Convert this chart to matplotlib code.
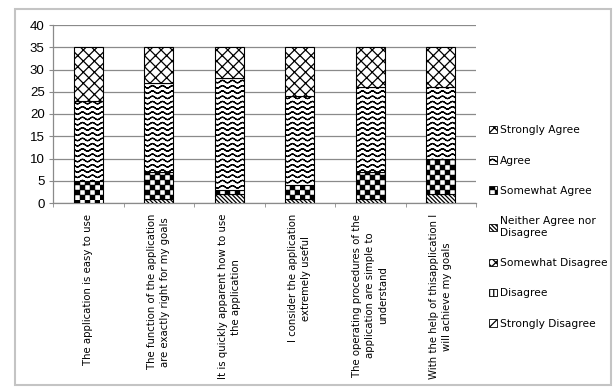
import warnings
import numpy as np
import matplotlib
matplotlib.use('Agg')
import matplotlib.pyplot as plt
import matplotlib.hatch as mhatch
from matplotlib.path import Path
from matplotlib.patches import Patch, Rectangle

warnings.filterwarnings('ignore')

questions = [
    'The application is easy to use',
    'The function of the application\nare exactly right for my goals',
    'It is quickly apparent how to use\nthe application',
    'I consider the application\nextremely useful',
    'The operating procedures of the\napplication are simple to\nunderstand',
    'With the help of thisapplication I\nwill achieve my goals',
]

# stacked bottom -> top
answers = ['Strongly Disagree', 'Disagree', 'Somewhat Disagree',
           'Neither Agree nor\nDisagree', 'Somewhat Agree', 'Agree',
           'Strongly Agree']
strongly_disagree = [0, 0, 0, 0, 0, 0]
disagree = [0, 0, 0, 0, 0, 0]
somewhat_disagree = [0, 0, 0, 0, 0, 0]
neither = [0, 1, 2, 1, 1, 2]
somewhat_agree = [5, 6, 1, 3, 6, 8]
agree = [18, 20, 25, 20, 19, 16]
strongly_agree = [12, 8, 7, 11, 9, 9]
counts = [strongly_disagree, disagree, somewhat_disagree, neither,
          somewhat_agree, agree, strongly_agree]


# extra hatch patterns: '~' wavy lines, '#' checkerboard
class WavyHatch(mhatch.HatchPatternBase):
    pts = 121

    def __init__(self, hatch, density):
        self.num_lines = hatch.count('~') * 19
        self.num_vertices = self.num_lines * self.pts * 2

    def set_vertices_and_codes(self, vertices, codes):
        x = np.linspace(0.0, 1.0, self.pts)
        wave = 0.012 * np.sin(2 * np.pi * 10 * x)
        n = self.pts
        for i in range(self.num_lines):
            y = (i + 0.5) / self.num_lines + wave
            s = i * 2 * n
            # go out and back so the filled area stays empty
            vertices[s:s + n, 0] = x
            vertices[s:s + n, 1] = y
            vertices[s + n:s + 2 * n, 0] = x[::-1]
            vertices[s + n:s + 2 * n, 1] = y[::-1]
            codes[s:s + 2 * n] = Path.LINETO
            codes[s] = Path.MOVETO


class CheckerHatch(mhatch.HatchPatternBase):
    def __init__(self, hatch, density):
        self.n = hatch.count('#') * 20
        self.num_vertices = (self.n * self.n // 2) * 5

    def set_vertices_and_codes(self, vertices, codes):
        step = 1.0 / self.n
        m = 0.004
        k = 0
        for i in range(self.n):
            for j in range(self.n):
                if (i + j) % 2:
                    continue
                x0, y0 = i * step + m, j * step + m
                x1, y1 = (i + 1) * step - m, (j + 1) * step - m
                vertices[k:k + 5] = [[x0, y0], [x1, y0], [x1, y1], [x0, y1], [x0, y0]]
                codes[k:k + 5] = [Path.MOVETO, Path.LINETO, Path.LINETO,
                                  Path.LINETO, Path.CLOSEPOLY]
                k += 5


mhatch._hatch_types.extend([WavyHatch, CheckerHatch])

hatches = ['////', '||||', 'xxxx', '\\' * 8, '#', '~', 'xxx']

plt.rcParams['hatch.linewidth'] = 0.9

fig = plt.figure(figsize=(6.13, 3.87), dpi=100)
ax = fig.add_axes([53 / 613, 1 - 203 / 387, (476 - 53) / 613, (203 - 25) / 387])

x = np.arange(len(questions))
bottom = np.zeros(len(questions))
for vals, h in zip(counts, hatches):
    ax.bar(x, vals, 0.41, bottom=bottom, color='white', edgecolor='black',
           linewidth=0.8, hatch=h, zorder=3)
    bottom += np.array(vals)

ax.set_xlim(-0.5, len(questions) - 0.5)
ax.set_ylim(0, 40)
ax.set_yticks(range(0, 41, 5))
ax.yaxis.grid(True, color='#8a8a8a', linewidth=0.9, zorder=0)
ax.set_axisbelow(True)

for s in ['top', 'right']:
    ax.spines[s].set_visible(False)
for s in ['left', 'bottom']:
    ax.spines[s].set_color('#8a8a8a')
    ax.spines[s].set_linewidth(0.9)

ax.tick_params(axis='y', length=3, color='#8a8a8a', labelsize=9.5, pad=3)
for t in ax.get_yticklabels():
    t.set_fontfamily('Liberation Sans')

ax.set_xticks(x)
ax.set_xticklabels(questions, rotation=90, multialignment='center',
                   linespacing=1.4, fontsize=7.3)
ax.tick_params(axis='x', which='major', length=0, pad=8)
ax.set_xticks(np.arange(-0.5, len(questions)), minor=True)
ax.tick_params(axis='x', which='minor', length=3, color='#8a8a8a')

handles = [Patch(facecolor='white', edgecolor='black', linewidth=0.6, hatch=h)
           for h in hatches]
fig.legend(handles[::-1], answers[::-1], loc='upper left',
           bbox_to_anchor=(485 / 613, 1 - 121 / 387), frameon=False,
           fontsize=7.7, labelspacing=1.9, handlelength=0.7, handleheight=0.7,
           handletextpad=0.3, borderaxespad=0)

fig.patches.append(Rectangle((15 / 613, 2 / 387), 596 / 613, 376 / 387,
                             transform=fig.transFigure, fill=False,
                             edgecolor='#c4c4c4', linewidth=1.5))

fig.savefig('out.png', dpi=100)
